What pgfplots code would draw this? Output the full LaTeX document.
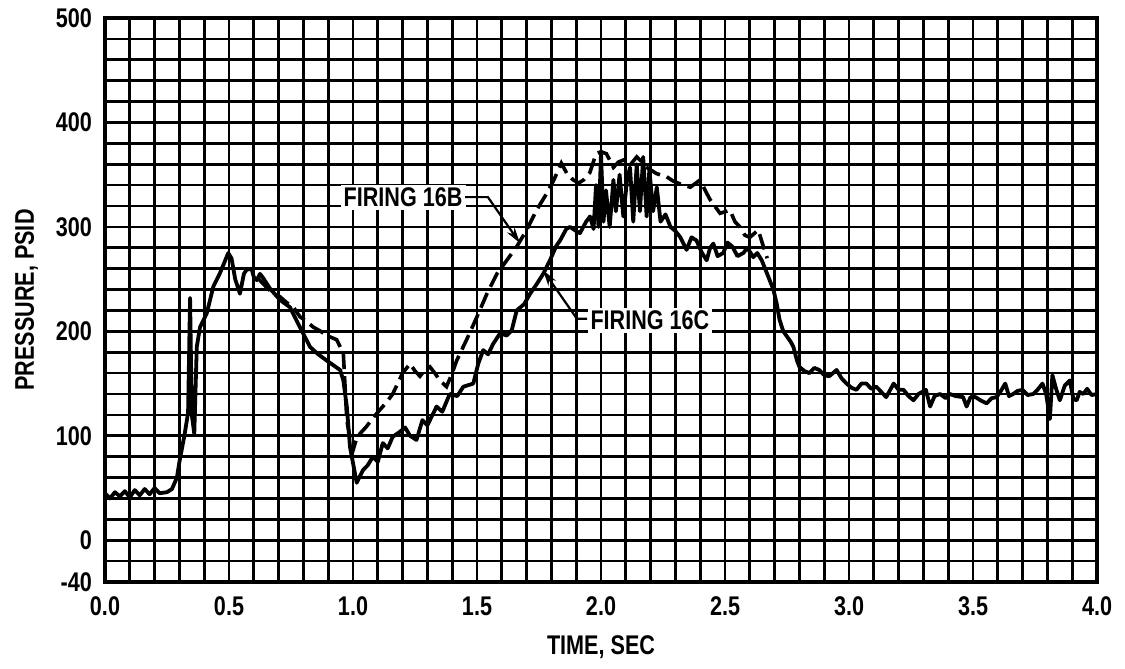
\documentclass[border=0pt]{standalone}
\usepackage{pgfplots}
\pgfplotsset{compat=1.18}
\usepackage{fontspec}
\setmainfont{Liberation Sans}[FakeStretch=0.8]
\usetikzlibrary{arrows.meta}

% firing 16C (solid trace)
\pgfplotstableread{
t p
0.00 45
0.02 40
0.04 46
0.06 42
0.08 47
0.10 41
0.12 48
0.14 43
0.16 49
0.18 44
0.20 50
0.22 45
0.25 46
0.27 49
0.29 60
0.30 75
0.32 100
0.335 122
0.343 232
0.350 120
0.360 102
0.370 185
0.383 204
0.41 217
0.437 243
0.464 256
0.497 275
0.51 270
0.525 250
0.544 236
0.56 255
0.571 259
0.591 260
0.60 252
0.612 249
0.625 255
0.638 251
0.665 241
0.706 230
0.746 223
0.786 204
0.827 185
0.86 178
0.894 172
0.948 163
0.961 153
0.975 128
0.988 89
1.015 55
1.04 67
1.06 72
1.08 80
1.10 75
1.12 93
1.14 88
1.16 99
1.19 104
1.21 108
1.23 100
1.256 96
1.28 115
1.30 110
1.337 128
1.36 123
1.39 140
1.42 138
1.445 147
1.485 150
1.505 169
1.525 182
1.545 178
1.565 188
1.593 198
1.62 196
1.64 201
1.66 220
1.69 226
1.714 236
1.74 245
1.767 255
1.794 268
1.82 282
1.835 287
1.86 298
1.875 300
1.90 296
1.915 294
1.94 305
1.956 310
1.97 298
1.98 340
1.99 300
2.00 370
2.01 305
2.02 335
2.035 300
2.05 345
2.06 315
2.075 350
2.09 310
2.105 345
2.117 357
2.13 305
2.144 360
2.157 315
2.17 367
2.184 310
2.195 355
2.21 315
2.225 338
2.24 305
2.26 312
2.28 300
2.30 296
2.32 290
2.345 278
2.365 290
2.385 287
2.405 276
2.426 268
2.44 280
2.453 284
2.47 272
2.493 275
2.51 285
2.53 281
2.55 272
2.574 275
2.59 280
2.614 271
2.63 275
2.648 268
2.665 258
2.68 249
2.695 240
2.708 227
2.72 211
2.735 200
2.75 195
2.765 190
2.776 185
2.79 172
2.80 166
2.82 162
2.84 160
2.86 165
2.88 163
2.90 158
2.92 157
2.95 163
2.97 155
2.99 150
3.01 146
3.03 144
3.05 150
3.07 150
3.09 145
3.11 147
3.13 142
3.15 137
3.18 150
3.20 144
3.22 144
3.24 138
3.26 134
3.28 140
3.31 144
3.327 128
3.345 138
3.367 140
3.39 136
3.407 140
3.43 138
3.46 137
3.474 128
3.49 137
3.51 137
3.53 134
3.555 131
3.575 136
3.595 137
3.61 142
3.63 150
3.645 138
3.662 140
3.68 143
3.70 144
3.72 139
3.743 140
3.76 144
3.78 150
3.795 140
3.81 116
3.82 158
3.835 145
3.85 134
3.87 148
3.89 153
3.905 135
3.918 134
3.93 142
3.945 140
3.96 145
3.978 139
4.00 140
}\firingC

% firing 16B (dashed trace)
\pgfplotstableread{
t p
0.62 250
0.66 240
0.706 233
0.73 228
0.76 223
0.786 214
0.81 210
0.84 204
0.87 200
0.894 196
0.934 192
0.961 179
0.968 147
0.975 115
0.99 95
1.00 86
1.015 98
1.028 102
1.055 109
1.08 117
1.109 125
1.135 132
1.16 140
1.18 150
1.20 160
1.23 169
1.25 162
1.27 157
1.29 163
1.31 166
1.33 160
1.35 153
1.377 147
1.40 160
1.418 172
1.458 192
1.50 214
1.54 236
1.58 255
1.62 268
1.66 281
1.70 297
1.74 316
1.781 332
1.81 345
1.84 361
1.865 350
1.888 345
1.91 342
1.93 345
1.955 352
1.98 370
2.00 372
2.022 370
2.05 357
2.07 362
2.09 364
2.12 360
2.144 367
2.165 362
2.184 357
2.224 351
2.265 348
2.29 344
2.32 341
2.36 338
2.40 345
2.42 335
2.44 326
2.48 313
2.52 316
2.54 305
2.56 300
2.58 292
2.60 290
2.634 297
2.655 281
2.67 270
}\firingB

\begin{document}
\begin{tikzpicture}
\begin{axis}[
  scale only axis,
  width=496pt, height=282pt,
  xmin=0, xmax=4, ymin=-40, ymax=500,
  xtick={0,0.5,...,4},
  xticklabels={0.0,0.5,1.0,1.5,2.0,2.5,3.0,3.5,4.0},
  minor x tick num=4,
  ytick={-40,0,100,200,300,400,500},
  yticklabels={-40,0,100,200,300,400,500},
  minor ytick={-40,-20,...,500},
  grid=both,
  major grid style={black, line width=1.35pt},
  minor grid style={black, line width=1.35pt},
  major tick length=0pt, minor tick length=0pt,
  axis line style={black, line width=1.8pt},
  tick label style={font=\fontsize{13.5}{15}\selectfont\bfseries},
  xticklabel style={yshift=-4pt},
  yticklabel style={xshift=-3pt},
  label style={font=\fontsize{13.5}{15}\selectfont\bfseries},
  xlabel={TIME, SEC},
  ylabel={PRESSURE, PSID},
  xlabel style={yshift=-3pt},
  ylabel style={yshift=2pt},
  clip=false,
]
\addplot[black, line width=1.9pt, line join=round] table[x=t, y=p] {\firingC};
\addplot[black, line width=1.8pt, dash pattern=on 8pt off 3.5pt] table[x=t, y=p] {\firingB};

\node[fill=white, inner sep=1.5pt, font=\fontsize{13.5}{15}\selectfont\bfseries] at (axis cs:1.202,328.5) {FIRING 16B};
\draw[black, line width=1.1pt, -{Stealth[length=8pt,width=4.5pt]}] (axis cs:1.452,328.5) -- (axis cs:1.544,328.5) -- (axis cs:1.673,284.5);
\node[fill=white, inner sep=1.5pt, anchor=west, font=\fontsize{13.5}{15}\selectfont\bfseries] at (axis cs:1.944,210.7) {FIRING 16C};
\draw[black, line width=1.1pt, -{Stealth[length=8pt,width=4.5pt]}] (axis cs:1.944,212) -- (axis cs:1.903,212) -- (axis cs:1.766,258.6);
\end{axis}
\useasboundingbox ([shift={(-52.5pt,-43pt)}]current axis.south west) rectangle ([shift={(14pt,9pt)}]current axis.north east);
\end{tikzpicture}
\end{document}
